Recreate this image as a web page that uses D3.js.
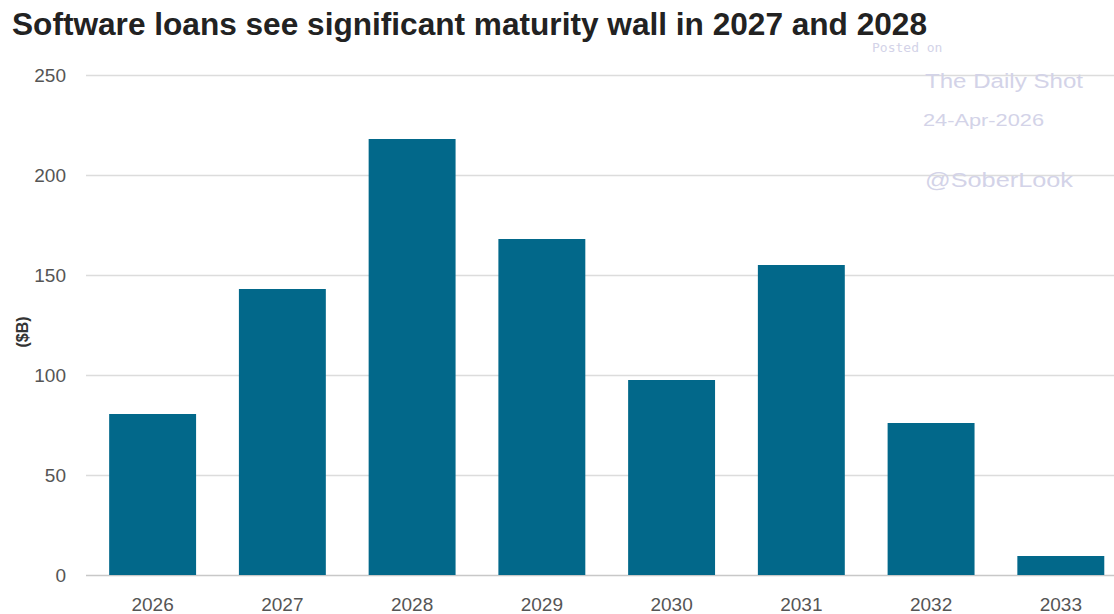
<!DOCTYPE html>
<html>
<head>
<meta charset="utf-8">
<script src="https://cdn.jsdelivr.net/npm/d3@7"></script>
<style>
body { margin:0; background:#fff; }
svg { display:block; font-family:'Liberation Sans', Arial, sans-serif; }
.grid line { stroke:#dcdcdc; stroke-width:1.5; }
.grid .domain { display:none; }
.grid text { fill:#555; font-size:19px; }
.xax text { fill:#555; font-size:19px; }
.xax .domain, .xax line { display:none; }
</style>
</head>
<body>
<div id="chart"></div>
<script>
var years = ['2026','2027','2028','2029','2030','2031','2032','2033']
var loans = [80.5, 143, 218, 168, 97.5, 155, 76, 9.5]
var yTicks = [0, 50, 100, 150, 200, 250]

var W = 1114, H = 614
var plotL = 86, plotR = 1112, plotT = 75, plotB = 575

var svg = d3.select('#chart').append('svg')
	.attr('width', W)
	.attr('height', H)

var x = d3.scaleBand().domain(years).range([plotL,plotR])
	.paddingInner(.33).paddingOuter(.119).align(.75)
var y = d3.scaleLinear().domain([0,250]).range([plotB,plotT])

// gridlines + y labels
svg.append('g').attr('class','grid')
	.attr('transform','translate('+plotL+',0)')
	.call(d3.axisLeft(y).tickValues(yTicks).tickSize(-(W-plotL)).tickPadding(20))
svg.select('.grid').selectAll('line').filter(d=>d===0).style('stroke','#c8c8c8')

// watermark
var wm = svg.append('g').style('fill','#d3d3e8')
wm.append('text').attr('x',872).attr('y',52).text('Posted on')
	.style('font-family','"DejaVu Sans Mono", monospace').style('font-size','13px')
wm.append('text').attr('x',925).attr('y',88).text('The Daily Shot')
	.style('font-size','20px').attr('textLength',158).attr('lengthAdjust','spacingAndGlyphs')
wm.append('text').attr('x',923).attr('y',126).text('24-Apr-2026')
	.style('font-size','17px').attr('textLength',121).attr('lengthAdjust','spacingAndGlyphs')
wm.append('text').attr('x',925).attr('y',187).text('@SoberLook')
	.style('font-size','20px').attr('textLength',148).attr('lengthAdjust','spacingAndGlyphs')

// bars
svg.append('g').selectAll('rect').data(years).join('rect')
	.attr('x', d=>x(d))
	.attr('width', x.bandwidth())
	.attr('y', (d,i)=>y(loans[i]))
	.attr('height', (d,i)=>y(0)-y(loans[i]))
	.style('fill','#02688a')

// x labels
svg.append('g').attr('class','xax')
	.attr('transform','translate(0,'+plotB+')')
	.call(d3.axisBottom(x).tickSize(0).tickPadding(23))

// y title
svg.append('text')
	.attr('transform','translate(28,332) rotate(-90)')
	.attr('text-anchor','middle')
	.style('font-size','16px').style('font-weight','bold').style('fill','#333')
	.text('($B)')

// title
svg.append('text')
	.attr('x',12).attr('y',35)
	.style('font-size','31px').style('font-weight','bold').style('fill','#222')
	.attr('textLength',915).attr('lengthAdjust','spacingAndGlyphs')
	.text('Software loans see significant maturity wall in 2027 and 2028')
</script>
</body>
</html>
